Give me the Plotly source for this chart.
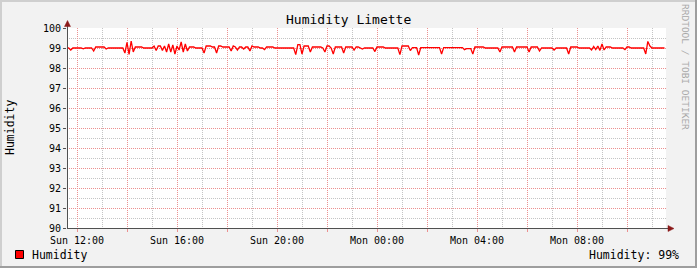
import plotly.graph_objects as go
import pandas as pd

# ---------------- data ----------------
start_time = "2023-01-01 11:35"   # a Sunday
step = "5min"
humidity = (
    [99.0, 99.0, 98.9, 99.0, 99.0, 99.0, 99.0, 99.0, 98.96, 99.0, 99.0, 99.0]
    + [99.0, 98.85, 99.05, 99.05, 99.05, 99.05, 99.05, 98.95, 99.0, 99.0, 99.0, 99.0]
    + [99.0, 99.0, 99.0, 99.0, 98.75, 99.28, 98.68, 99.35, 98.8, 99.05, 99.05, 99.05]
    + [99.05, 99.0, 99.0, 99.0, 99.0, 99.0, 99.1, 98.87, 99.1, 99.1, 98.88, 99.1]
    + [98.8, 99.2, 98.8, 99.15, 98.7, 99.1, 98.9, 99.3, 98.8, 99.2, 98.85, 99.05]
    + [99.05, 99.05, 99.0, 99.0, 99.0, 99.0, 98.75, 99.1, 99.1, 99.1, 99.05, 99.05]
    + [98.75, 99.1, 99.1, 99.05, 99.05, 99.05, 99.05, 98.85, 99.1, 99.05, 98.9, 99.05]
    + [99.05, 98.95, 99.05, 99.05, 98.85, 99.1, 99.05, 99.05, 99.05, 99.0, 99.0, 98.92]
    + [99.05, 99.05, 99.05, 99.05, 99.0, 99.0, 99.0, 99.0, 99.0, 99.0, 99.0, 99.0]
    + [99.0, 99.0, 98.67, 99.17, 99.17, 98.7, 99.1, 99.1, 99.1, 98.8, 99.05, 99.05]
    + [99.05, 99.05, 99.05, 99.0, 98.8, 99.1, 99.1, 99.0, 98.7, 99.05, 99.05, 99.05]
    + [99.05, 98.75, 99.05, 99.05, 99.05, 99.05, 98.9, 99.05, 99.05, 99.0, 98.95, 99.0]
    + [99.0, 99.0, 99.0, 99.0, 98.82, 99.05, 99.05, 99.05, 99.05, 99.0, 99.0, 99.0]
    + [99.0, 99.0, 99.0, 99.0, 98.67, 99.1, 99.1, 99.1, 99.1, 98.87, 99.02, 99.02]
    + [99.02, 98.65, 99.02, 99.02, 99.02, 99.02, 99.02, 99.02, 99.02, 99.02, 99.02, 99.02]
    + [98.7, 99.02, 99.02, 99.02, 99.02, 99.02, 99.02, 99.02, 99.02, 99.02, 99.02, 98.92]
    + [98.97, 98.97, 98.97, 98.7, 99.05, 99.05, 99.05, 99.05, 99.05, 99.0, 99.0, 99.0]
    + [99.0, 99.0, 99.0, 99.0, 98.8, 99.05, 99.05, 99.05, 99.05, 99.05, 99.05, 98.8]
    + [99.05, 99.05, 99.05, 99.05, 99.05, 99.05, 98.8, 99.05, 99.05, 99.05, 99.05, 98.85]
    + [99.0, 99.0, 99.0, 99.0, 99.0, 99.0, 98.9, 99.0, 99.0, 99.0, 99.0, 99.0]
    + [99.0, 98.7, 99.05, 99.05, 99.05, 99.05, 99.0, 99.0, 99.0, 99.0, 99.0, 99.0]
    + [98.9, 99.08, 98.92, 99.1, 98.88, 99.2, 98.9, 99.05, 99.05, 99.05, 99.0, 99.0]
    + [99.0, 99.0, 99.0, 99.0, 98.92, 99.05, 99.05, 99.0, 99.0, 99.0, 99.0, 99.0]
    + [99.0, 99.0, 98.7, 99.33, 99.1, 99.0, 99.0, 99.0, 99.0, 99.0, 99.0, 99.0]
)
times = pd.date_range(start_time, periods=len(humidity), freq=step)

x_range = ["2023-01-01 11:36", "2023-01-02 11:33:36"]
major_ticks = pd.date_range("2023-01-01 12:00", "2023-01-02 10:00", freq="2h")
tick_labels = ["Sun 12:00", "", "Sun 16:00", "", "Sun 20:00", "",
               "Mon 00:00", "", "Mon 04:00", "", "Mon 08:00", ""]
minor_ticks = pd.date_range("2023-01-01 12:00", "2023-01-02 11:00", freq="1h")
y_range = [90, 100]

title = "Humidity Limette"
series_name = "Humidity"
y_title = "Humidity"
watermark = "RRDTOOL / TOBI OETIKER"

# ---------------- layout helpers ----------------
W, H = 697, 268
L, R, T, B = 67, 666, 28, 228
def px(x): return (x - L) / (R - L)
def py(y): return (B - y) / (B - T)

FONT = "DejaVu Sans Mono"
MAJ = "#EC9090"
MIN = "#C4C4C4"

fig = go.Figure()
fig.add_trace(go.Scatter(x=times, y=humidity, mode="lines",
                         line=dict(color="#FF0000", width=1.3),
                         name=series_name, showlegend=False, hoverinfo="skip"))

shapes = []
# 3D border
shapes.append(dict(type="rect", xref="paper", yref="paper", x0=px(0), x1=px(W), y0=py(0), y1=py(2),
                   fillcolor="#CFCFCF", line_width=0, layer="below"))
shapes.append(dict(type="rect", xref="paper", yref="paper", x0=px(0), x1=px(2), y0=py(0), y1=py(H),
                   fillcolor="#CFCFCF", line_width=0, layer="below"))
shapes.append(dict(type="rect", xref="paper", yref="paper", x0=px(0), x1=px(W), y0=py(H - 2), y1=py(H),
                   fillcolor="#9E9E9E", line_width=0, layer="below"))
shapes.append(dict(type="rect", xref="paper", yref="paper", x0=px(W - 2), x1=px(W), y0=py(0), y1=py(H),
                   fillcolor="#9E9E9E", line_width=0, layer="below"))
# axes
shapes.append(dict(type="line", xref="paper", yref="paper", x0=px(67.5), x1=px(67.5), y0=py(228.5), y1=py(24),
                   line=dict(color="#505050", width=1)))
shapes.append(dict(type="line", xref="paper", yref="paper", x0=px(67), x1=px(670), y0=py(228.5), y1=py(228.5),
                   line=dict(color="#505050", width=1)))
# arrows
def tri(pts):
    return "M " + " L ".join(f"{px(a)},{py(b)}" for a, b in pts) + " Z"
shapes.append(dict(type="path", xref="paper", yref="paper",
                   path=tri([(67.5, 20.5), (64.5, 26.5), (70.5, 26.5)]),
                   fillcolor="#8B1A1A", line=dict(color="#8B1A1A", width=0.5)))
shapes.append(dict(type="path", xref="paper", yref="paper",
                   path=tri([(674, 228.5), (668, 225.5), (668, 231.5)]),
                   fillcolor="#8B1A1A", line=dict(color="#8B1A1A", width=0.5)))
# legend swatch
shapes.append(dict(type="rect", xref="paper", yref="paper", x0=px(15.5), x1=px(23.5), y0=py(250.5), y1=py(258.5),
                   fillcolor="#FF0000", line=dict(color="#000000", width=1)))

annotations = [
    dict(text=title, x=px(348), y=py(20), xref="paper", yref="paper", showarrow=False,
         font=dict(family=FONT, size=13, color="#000"), xanchor="center", yanchor="middle"),
    dict(text=y_title, x=px(10), y=py(128), xref="paper", yref="paper", showarrow=False, textangle=-90,
         font=dict(family=FONT, size=11.5, color="#000"), xanchor="center", yanchor="middle"),
    dict(text=watermark, x=px(686), y=py(67), xref="paper", yref="paper", showarrow=False, textangle=90,
         font=dict(family=FONT, size=9.5, color="#A8A8A8"), xanchor="center", yanchor="middle"),
    dict(text=series_name, x=px(30), y=py(254.5), xref="paper", yref="paper", showarrow=False,
         font=dict(family=FONT, size=11.5, color="#000"), xanchor="left", yanchor="middle"),
    dict(text=f"{series_name}: {round(humidity[-1]):.0f}%", x=px(681), y=py(254.5), xref="paper", yref="paper",
         showarrow=False, font=dict(family=FONT, size=11.5, color="#000"), xanchor="right", yanchor="middle"),
]

fig.update_layout(
    width=W, height=H, margin=dict(l=L, r=W - R, t=T, b=H - B),
    paper_bgcolor="#F2F2F2", plot_bgcolor="#FFFFFF",
    font=dict(family=FONT, size=10, color="#000"),
    shapes=shapes, annotations=annotations, showlegend=False,
    xaxis=dict(type="date", range=x_range, tickmode="array", tickvals=major_ticks, ticktext=tick_labels,
               showgrid=True, gridcolor=MAJ, griddash="1px,1px", gridwidth=1,
               ticks="outside", ticklen=3, tickcolor=MAJ, showline=False, zeroline=False,
               tickfont=dict(family=FONT, size=10, color="#000"),
               minor=dict(tickmode="array", tickvals=minor_ticks, showgrid=True, gridcolor=MIN,
                          griddash="1px,1px", gridwidth=1, ticks="")),
    yaxis=dict(range=y_range, tickmode="linear", tick0=90, dtick=1,
               showgrid=True, gridcolor=MAJ, griddash="1px,1px", gridwidth=1,
               ticks="outside", ticklen=3, tickcolor="#505050", showline=False, zeroline=False,
               tickfont=dict(family=FONT, size=10, color="#000"),
               minor=dict(dtick=0.5, tick0=90, showgrid=True, gridcolor=MIN, griddash="1px,1px",
                          gridwidth=1, ticks="")),
)

fig.write_html("out.html")
